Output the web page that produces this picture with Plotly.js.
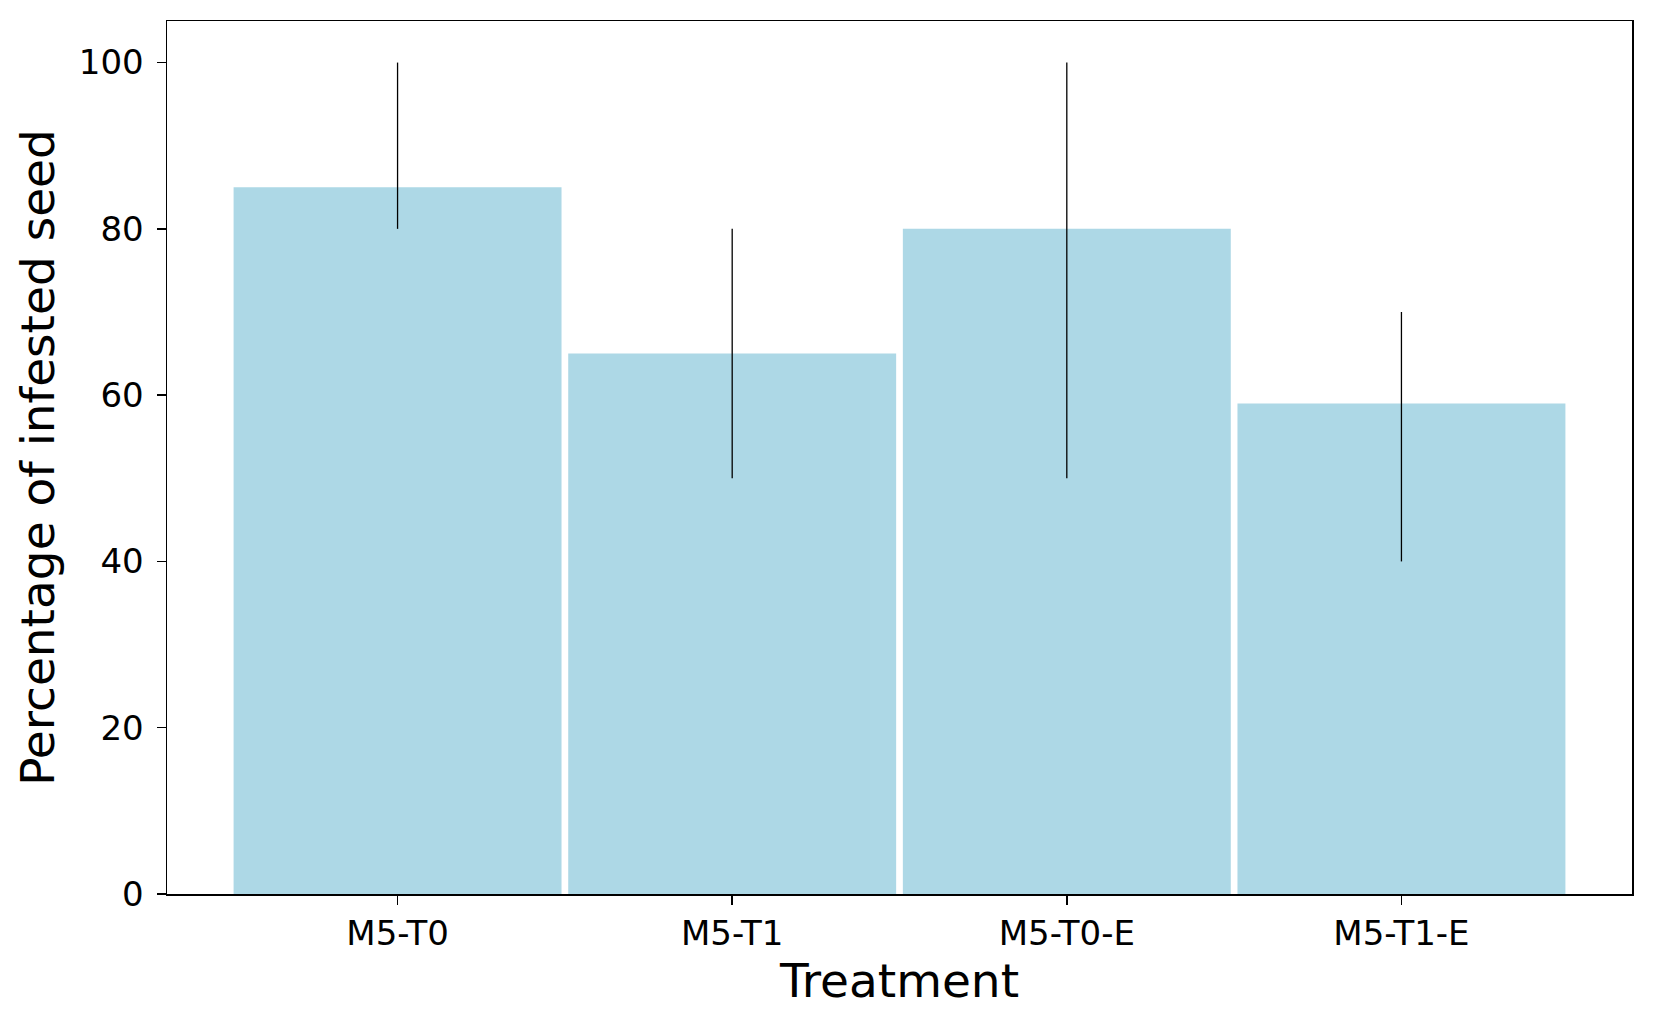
<!DOCTYPE html>
<html>
<head>
<meta charset="utf-8">
<script src="https://cdn.plot.ly/plotly-3.0.1.min.js"></script>
<style>html,body{margin:0;padding:0;background:#fff;}#chart{width:1656px;height:1019px;}</style>
</head>
<body>
<div id="chart"></div>
<script>
const categories = ["M5-T0", "M5-T1", "M5-T0-E", "M5-T1-E"];
const values = [85, 65, 80, 59];
const errUpper = [100, 80, 100, 70];
const errLower = [80, 50, 50, 40];
const yTicks = [0, 20, 40, 60, 80, 100];

const trace = {
  type: "bar",
  x: categories,
  y: values,
  width: 0.98,
  marker: {color: "#ADD8E6", line: {width: 0}},
  error_y: {
    type: "data",
    symmetric: false,
    array: values.map((v, i) => errUpper[i] - v),
    arrayminus: values.map((v, i) => v - errLower[i]),
    width: 0,
    thickness: 1.3,
    color: "#000"
  },
  hoverinfo: "none"
};

const font = {family: "DejaVu Sans, sans-serif", color: "#000"};

const layout = {
  width: 1656, height: 1019,
  margin: {l: 167, r: 24, t: 21, b: 125},
  paper_bgcolor: "#fff", plot_bgcolor: "#fff",
  showlegend: false,
  font: Object.assign({size: 34}, font),
  xaxis: {
    type: "category",
    range: [-0.689, 3.689],
    showline: true, mirror: true, linecolor: "#000", linewidth: 1.5,
    ticks: "outside", ticklen: 9, tickwidth: 1.5, tickcolor: "#000",
    tickfont: Object.assign({size: 34}, font),
    ticklabelstandoff: 0,
    showgrid: false, zeroline: false,
    title: {text: "Treatment", font: Object.assign({size: 47}, font), standoff: 2}
  },
  yaxis: {
    range: [0, 105],
    tickvals: yTicks,
    ticktext: yTicks.map(String),
    showline: true, mirror: true, linecolor: "#000", linewidth: 1.5,
    ticks: "outside", ticklen: 9, tickwidth: 1.5, tickcolor: "#000",
    tickfont: Object.assign({size: 34}, font),
    ticklabelstandoff: 6,
    showgrid: false, zeroline: false,
    title: {text: "Percentage of infested seed", font: Object.assign({size: 47}, font), standoff: 9}
  }
};

Plotly.newPlot("chart", [trace], layout, {displayModeBar: false, staticPlot: true});
</script>
</body>
</html>
